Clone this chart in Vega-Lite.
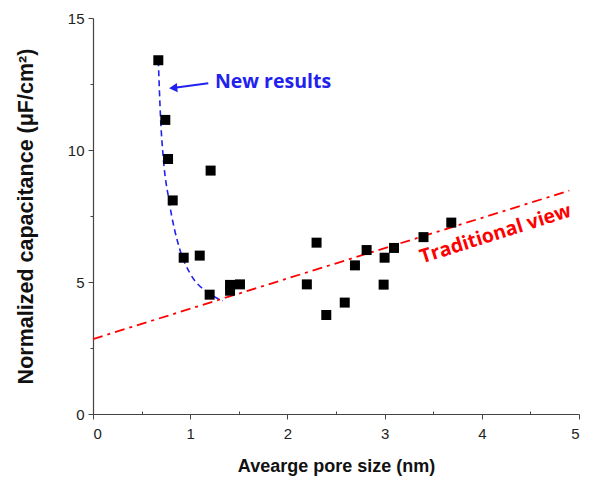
{
  "$schema": "https://vega.github.io/schema/vega-lite/v6.json",
  "width": 486,
  "height": 396,
  "autosize": "none",
  "padding": {"left": 93, "top": 18, "right": 13, "bottom": 73},
  "background": "white",
  "config": {
    "view": {"stroke": null},
    "axis": {
      "grid": false,
      "domainColor": "#444",
      "domainWidth": 1.2,
      "tickColor": "#444",
      "labelFont": "Liberation Sans",
      "labelFontSize": 15,
      "labelColor": "#222",
      "titleFont": "Liberation Sans",
      "titleFontSize": 18,
      "titleFontWeight": "bold",
      "titleColor": "#111"
    }
  },
  "datasets": {
    "points": [
      {"x": 0.672, "y": 13.4},
      {"x": 0.744, "y": 11.14},
      {"x": 0.772, "y": 9.66},
      {"x": 0.82, "y": 8.09},
      {"x": 1.21, "y": 9.22},
      {"x": 0.933, "y": 5.92},
      {"x": 1.098, "y": 6.0},
      {"x": 1.2, "y": 4.52},
      {"x": 1.41, "y": 4.89},
      {"x": 1.41, "y": 4.67},
      {"x": 1.512, "y": 4.91},
      {"x": 2.2, "y": 4.91},
      {"x": 2.3, "y": 6.49},
      {"x": 2.4, "y": 3.75},
      {"x": 2.59, "y": 4.22},
      {"x": 2.695, "y": 5.63},
      {"x": 2.815, "y": 6.21},
      {"x": 3.0, "y": 5.92},
      {"x": 2.99, "y": 4.9},
      {"x": 3.097, "y": 6.29},
      {"x": 3.4, "y": 6.7},
      {"x": 3.686, "y": 7.25}
    ],
    "curve": [
      {"o": 1, "x": 0.672, "y": 13.4},
      {"o": 2, "x": 0.696, "y": 11.14},
      {"o": 3, "x": 0.724, "y": 9.66},
      {"o": 4, "x": 0.782, "y": 8.09},
      {"o": 5, "x": 0.895, "y": 6.21},
      {"o": 6, "x": 0.998, "y": 5.33},
      {"o": 7, "x": 1.17, "y": 4.63},
      {"o": 8, "x": 1.334, "y": 4.29}
    ],
    "trend": [
      {"x": 0.0, "y": 2.84},
      {"x": 4.9, "y": 8.46}
    ],
    "arrow": [
      {"x": 1.186, "y": 12.53, "x2": 0.84, "y2": 12.36}
    ],
    "tip": [
      {"x": 0.825, "y": 12.35}
    ],
    "label1": [
      {"x": 1.255, "y": 12.59, "t": "New results"}
    ],
    "label2": [
      {"x": 4.16, "y": 6.6, "t": "Traditional view"}
    ]
  },
  "layer": [
    {
      "data": {"name": "trend"},
      "mark": {"type": "line", "color": "#ff0000", "strokeWidth": 1.8, "strokeDash": [10, 5, 3, 5]},
      "encoding": {
        "x": {
          "field": "x", "type": "quantitative",
          "scale": {"domain": [0, 5], "nice": false},
          "axis": {
            "title": "Avearge pore size (nm)",
            "values": [0, 0.5, 1, 1.5, 2, 2.5, 3, 3.5, 4, 4.5, 5],
            "labelExpr": "datum.value % 1 === 0 ? format(datum.value, 'd') : ''",
            "tickSize": {"condition": {"test": "datum.value % 1 === 0", "value": 5}, "value": -3},
            "labelPadding": 7,
            "titlePadding": 16
          }
        },
        "y": {
          "field": "y", "type": "quantitative",
          "scale": {"domain": [0, 15], "nice": false},
          "axis": {
            "title": "Normalized capacitance (μF/cm²)",
            "titleFontSize": 21.5,
            "values": [0, 2.5, 5, 7.5, 10, 12.5, 15],
            "labelExpr": "datum.value % 5 === 0 ? format(datum.value, 'd') : ''",
            "tickSize": {"condition": {"test": "datum.value % 5 === 0", "value": 5}, "value": 3},
            "labelPadding": 4,
            "titlePadding": 30
          }
        }
      }
    },
    {
      "data": {"name": "curve"},
      "mark": {"type": "line", "color": "#2222ee", "strokeWidth": 1.6, "strokeDash": [6, 4], "interpolate": "monotone"},
      "encoding": {
        "x": {"field": "x", "type": "quantitative"},
        "y": {"field": "y", "type": "quantitative"},
        "order": {"field": "o"}
      }
    },
    {
      "data": {"name": "points"},
      "mark": {"type": "point", "shape": "square", "filled": true, "color": "#000000", "size": 100, "opacity": 1},
      "encoding": {
        "x": {"field": "x", "type": "quantitative"},
        "y": {"field": "y", "type": "quantitative"}
      }
    },
    {
      "data": {"name": "arrow"},
      "mark": {"type": "rule", "color": "#2222ee", "strokeWidth": 2},
      "encoding": {
        "x": {"field": "x", "type": "quantitative"},
        "y": {"field": "y", "type": "quantitative"},
        "x2": {"field": "x2"},
        "y2": {"field": "y2"}
      }
    },
    {
      "data": {"name": "tip"},
      "mark": {"type": "point", "shape": "triangle-left", "filled": true, "color": "#2222ee", "size": 90, "opacity": 1, "angle": -5},
      "encoding": {
        "x": {"field": "x", "type": "quantitative"},
        "y": {"field": "y", "type": "quantitative"}
      }
    },
    {
      "data": {"name": "label1"},
      "mark": {"type": "text", "color": "#2222ee", "font": "Open Sans", "fontWeight": "bold", "fontSize": 19.5, "align": "left", "baseline": "middle"},
      "encoding": {
        "x": {"field": "x", "type": "quantitative"},
        "y": {"field": "y", "type": "quantitative"},
        "text": {"field": "t"}
      }
    },
    {
      "data": {"name": "label2"},
      "mark": {"type": "text", "color": "#ff0000", "font": "Open Sans", "fontWeight": "bold", "fontSize": 19.5, "align": "center", "baseline": "alphabetic", "angle": -17.5},
      "encoding": {
        "x": {"field": "x", "type": "quantitative"},
        "y": {"field": "y", "type": "quantitative"},
        "text": {"field": "t"}
      }
    }
  ]
}
